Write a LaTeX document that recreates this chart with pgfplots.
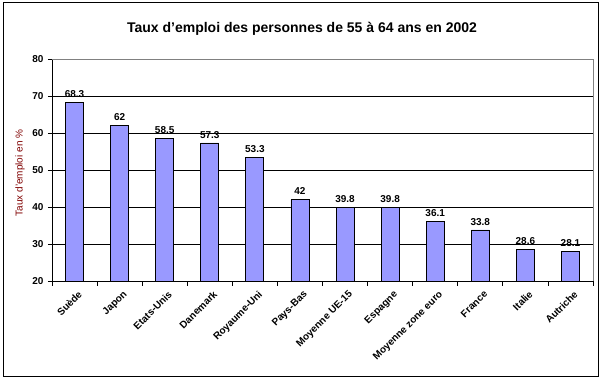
\documentclass[border=0pt]{standalone}
\usepackage{pgfplots}
\pgfplotsset{compat=1.18}
\usepackage{fontspec}
\setmainfont{Liberation Sans}
\definecolor{barblue}{RGB}{153,153,255}
\definecolor{labred}{RGB}{128,0,0}
\begin{document}
\begin{tikzpicture}[x=1pt,y=1pt]
\useasboundingbox (0,0) rectangle (604,382);
\fill[white] (0,0) rectangle (604,382);
\draw[black, line width=1pt] (3,5) rectangle (598,379);
\node[font=\fontsize{14}{16}\selectfont\bfseries] at (302,353) {Taux d'emploi des personnes de 55 à 64 ans en 2002};
\node[rotate=90, font=\fontsize{10}{12}\selectfont, text=labred] at (20,209) {Taux d'emploi en \%};
\begin{axis}[
  at={(52pt,101pt)}, anchor=south west,
  scale only axis, width=541pt, height=222pt,
  ymin=20, ymax=80, ytick={20,30,...,80},
  xmin=-0.5, xmax=11.5,
  xtick={0,...,11},
  xticklabels={Suède,Japon,Etats-Unis,Danemark,Royaume-Uni,Pays-Bas,Moyenne UE-15,Espagne,Moyenne zone euro,France,Italie,Autriche},
  minor xtick={-0.5,0.5,...,11.5},
  major x tick style={draw=none},
  tick align=outside,
  major tick length=4pt, minor tick length=5pt,
  axis x line*=bottom, axis y line*=left,
  axis line style={black, line width=0.8pt, -},
  tick style={black, line width=0.8pt},
  ymajorgrids, grid style={black, line width=0.8pt},
  /pgf/number format/assume math mode=true,
  ticklabel style={font=\fontsize{10}{12}\selectfont\bfseries},
  yticklabel style={xshift=-1pt},
  xticklabel style={rotate=45, anchor=north east, xshift=2pt, yshift=-2pt},
  ybar, bar width=18pt,
  nodes near coords,
  nodes near coords style={font=\fontsize{10}{12}\selectfont\bfseries, anchor=south, yshift=1pt},
  point meta=explicit symbolic,
  clip=false,
]
\addplot[fill=barblue, draw=black, line width=0.8pt] coordinates {
 (0,68.3)[68.3] (1,62)[62] (2,58.5)[58.5] (3,57.3)[57.3] (4,53.3)[53.3] (5,42)[42]
 (6,39.8)[39.8] (7,39.8)[39.8] (8,36.1)[36.1] (9,33.8)[33.8] (10,28.6)[28.6] (11,28.1)[28.1]};
\draw[gray, line width=0.8pt] (rel axis cs:0,1) -- (rel axis cs:1,1) -- (rel axis cs:1,0);
\end{axis}
\end{tikzpicture}
\end{document}
